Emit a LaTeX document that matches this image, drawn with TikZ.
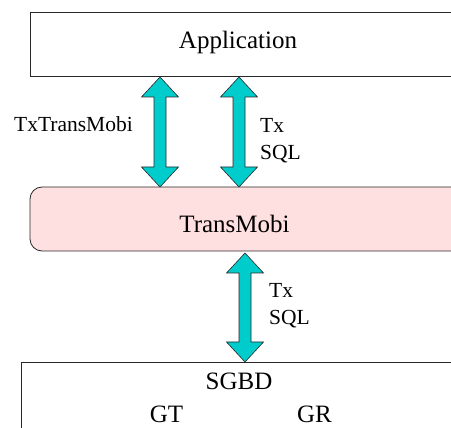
\documentclass[tikz,border=0pt]{standalone}
\usepackage{fontspec}
\setmainfont{Liberation Serif}
\usetikzlibrary{calc}
\definecolor{arrcyan}{RGB}{0,204,204}
\definecolor{tmpink}{RGB}{255,224,224}
\definecolor{boxline}{RGB}{40,40,40}
\newcommand\dblarr[2]{%
  \draw[arrshape] (#1) -- ++(18.5,20) -- ++(-12.5,0) -- ($(#2)+(6,-20)$) -- ++(12.5,0) -- (#2)
    -- ++(-18.5,-20) -- ++(12.5,0) -- ($(#1)+(-6,20)$) -- ++(-12.5,0) -- cycle;}
\begin{document}
\begin{tikzpicture}[x=1pt,y=-1pt,
  layerbox/.style={draw=boxline,line width=0.8pt,inner sep=0pt,outer sep=0pt},
  bigtxt/.style={font=\fontsize{25}{30}\selectfont,inner sep=0pt},
  lbltxt/.style={font=\fontsize{21.5}{27}\selectfont,inner sep=0pt,align=left},
  arrshape/.style={fill=arrcyan,draw=boxline,line width=0.6pt,line join=miter}]
\useasboundingbox (0,0) rectangle (451,428);
\begin{scope}
\clip (0,0) rectangle (451,428);
\fill[white] (0,0) rectangle (451,428);
% boxes (they run past the right edge)
\node[layerbox,minimum width=540pt,minimum height=64pt] (app) at (300,44) {};
\node[layerbox,fill=tmpink,rounded corners=12pt,minimum width=540pt,minimum height=64pt] (tm) at (300,219) {};
\node[layerbox,minimum width=550pt,minimum height=100pt] (db) at (296,412) {};
\end{scope}
% box texts
\node[bigtxt,anchor=base] (apptxt) at (238,49) {Application};
\node[bigtxt,anchor=base] (tmtxt) at (234.5,233) {TransMobi};
\node[bigtxt,anchor=base] (dbtxt) at (239,390) {SGBD};
\node[bigtxt,text depth=0pt,anchor=base] (gt) at (166.5,422.5) {GT};
\node[bigtxt,text depth=0pt,anchor=base] (gr) at (314.5,422.5) {GR};
% arrow positions
\coordinate (x1) at (160,0);
\coordinate (x2) at (239,0);
\coordinate (x3) at (245,0);
\coordinate (a1t) at ($(app.south -| x1)+(0,1)$);
\coordinate (a1b) at (tm.north -| x1);
\coordinate (a2t) at ($(app.south -| x2)+(0,1)$);
\coordinate (a2b) at (tm.north -| x2);
\coordinate (a3t) at ($(tm.south -| x3)+(0,2)$);
\coordinate (a3b) at (db.north -| x3);
\dblarr{a1t}{a1b}
\dblarr{a2t}{a2b}
\dblarr{a3t}{a3b}
% labels
\node[lbltxt,anchor=base east] (l1) at (133,132) {TxTransMobi};
\node[lbltxt,anchor=north west] (l2) at (260,118) {Tx\\SQL};
\node[lbltxt,anchor=north west] (l3) at (269,283) {Tx\\SQL};
\end{tikzpicture}
\end{document}
